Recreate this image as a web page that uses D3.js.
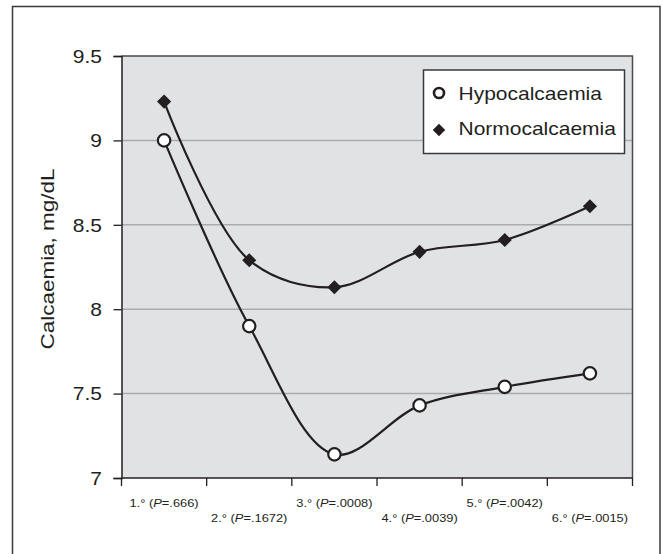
<!DOCTYPE html>
<html><head><meta charset="utf-8">
<script src="https://cdn.jsdelivr.net/npm/d3@7/dist/d3.min.js"></script>
<style>body{margin:0;background:#fff}svg{display:block}text{font-family:"Liberation Sans",Arial,sans-serif;fill:#231f20}</style>
</head><body>
<svg id="c" width="663" height="554"></svg>
<script>
const categories = ["1.°", "2.°", "3.°", "4.°", "5.°", "6.°"];
const pValues = [".666", ".1672", ".0008", ".0039", ".0042", ".0015"];
const hypocalcaemia = [9.0, 7.9, 7.14, 7.43, 7.54, 7.62];
const normocalcaemia = [9.23, 8.29, 8.13, 8.34, 8.41, 8.61];
const yTicks = [7, 7.5, 8, 8.5, 9, 9.5];
const seriesNames = ["Hypocalcaemia", "Normocalcaemia"];

const svg = d3.select("#c");
const L = 121.5, R = 632.5, T = 56, B = 478;
const x = d3.scaleBand().domain(categories).range([L, R]);
const y = d3.scaleLinear().domain([7, 9.5]).range([B, T]);
const ink = "#231f20";
const SX = 1.2;

// outer frame
svg.append("rect").attr("x", 12.5).attr("y", 6.5).attr("width", 647.5).attr("height", 600)
  .attr("fill", "none").attr("stroke", "#3a3a3a").attr("stroke-width", 1.5);

// plot background
svg.append("rect").attr("x", L).attr("y", T).attr("width", R - L).attr("height", B - T)
  .attr("fill", "#e1e2e4");

// gridlines
svg.append("g").selectAll("line").data(yTicks.filter(d => d > 7 && d < 9.5)).join("line")
  .attr("x1", L).attr("x2", R).attr("y1", d => y(d)).attr("y2", d => y(d))
  .attr("stroke", "#a9abad").attr("stroke-width", 1.5);

// top and right border
svg.append("path").attr("d", `M${L},${T}H${R}V${B}`).attr("fill", "none")
  .attr("stroke", "#4a4a4a").attr("stroke-width", 1.5);

// y axis
const ya = svg.append("g").attr("transform", `translate(${L},0)`)
  .call(d3.axisLeft(y).tickValues(yTicks).tickSize(8).tickPadding(0).tickFormat(d => String(d)));
ya.select(".domain").attr("stroke", ink).attr("stroke-width", 1.5);
ya.selectAll(".tick line").attr("stroke", ink).attr("stroke-width", 1.3);
ya.selectAll(".tick text").attr("x", 0).attr("dy", "0.36em")
  .attr("transform", `translate(-19.5,0) scale(${SX},1)`)
  .style("font-size", "17.5px").style("font-family", '"Liberation Sans",Arial,sans-serif').attr("fill", ink);

// x axis
const tickPos = categories.map(c => x(c)).concat([R]);
const xa = svg.append("g");
xa.append("line").attr("x1", L).attr("x2", R).attr("y1", B).attr("y2", B).attr("stroke", ink).attr("stroke-width", 1.5);
xa.selectAll("line.t").data(tickPos).join("line").attr("class", "t")
  .attr("x1", d => d).attr("x2", d => d).attr("y1", B).attr("y2", B + 8)
  .attr("stroke", ink).attr("stroke-width", 1.3);
const lab = xa.selectAll("text").data(categories).join("text")
  .attr("transform", (d, i) => `translate(${x(d) + x.bandwidth() / 2},${i % 2 === 0 ? 506.5 : 521.5}) scale(1.12,1)`)
  .attr("text-anchor", "middle")
  .style("font-size", "11.5px");
lab.each(function (d, i) {
  const t = d3.select(this);
  t.append("tspan").text(d + " (");
  t.append("tspan").attr("font-style", "italic").text("P");
  t.append("tspan").text("=" + pValues[i] + ")");
});

// y title
svg.append("text").attr("transform", `translate(54,259) rotate(-90) scale(${SX + 0.05},1)`)
  .attr("text-anchor", "middle").style("font-size", "18px")
  .text("Calcaemia, mg/dL");

// lines
const cx = (d, i) => x(categories[i]) + x.bandwidth() / 2;
const line = d3.line().x(cx).y(d => y(d)).curve(d3.curveCatmullRom.alpha(0.5));
[hypocalcaemia, normocalcaemia].forEach(s => {
  svg.append("path").attr("d", line(s)).attr("fill", "none")
    .attr("stroke", ink).attr("stroke-width", 2.2);
});

// markers
const diamond = d3.symbol().type(d3.symbolSquare).size(100);
svg.append("g").selectAll("path").data(normocalcaemia).join("path")
  .attr("d", diamond())
  .attr("transform", (d, i) => `translate(${cx(d, i)},${y(d)}) rotate(45)`)
  .attr("fill", ink);
svg.append("g").selectAll("circle").data(hypocalcaemia).join("circle")
  .attr("cx", cx).attr("cy", d => y(d)).attr("r", 6.2)
  .attr("fill", "#fff").attr("stroke", ink).attr("stroke-width", 2.2);

// legend
const lg = svg.append("g");
lg.append("rect").attr("x", 423.5).attr("y", 70).attr("width", 201).attr("height", 83.5)
  .attr("fill", "#fff").attr("stroke", "#3a3a3a").attr("stroke-width", 1.5);
lg.append("circle").attr("cx", 439).attr("cy", 93).attr("r", 5).attr("fill", "#fff")
  .attr("stroke", ink).attr("stroke-width", 2.6);
lg.append("path").attr("d", d3.symbol().type(d3.symbolSquare).size(78)())
  .attr("transform", "translate(439,130) rotate(45)").attr("fill", ink);
lg.selectAll("text").data(seriesNames).join("text")
  .attr("transform", (d, i) => `translate(458.5,${i === 0 ? 99.5 : 134.5}) scale(${SX},1)`)
  .style("font-size", "17.5px").text(d => d);
</script>
</body></html>
